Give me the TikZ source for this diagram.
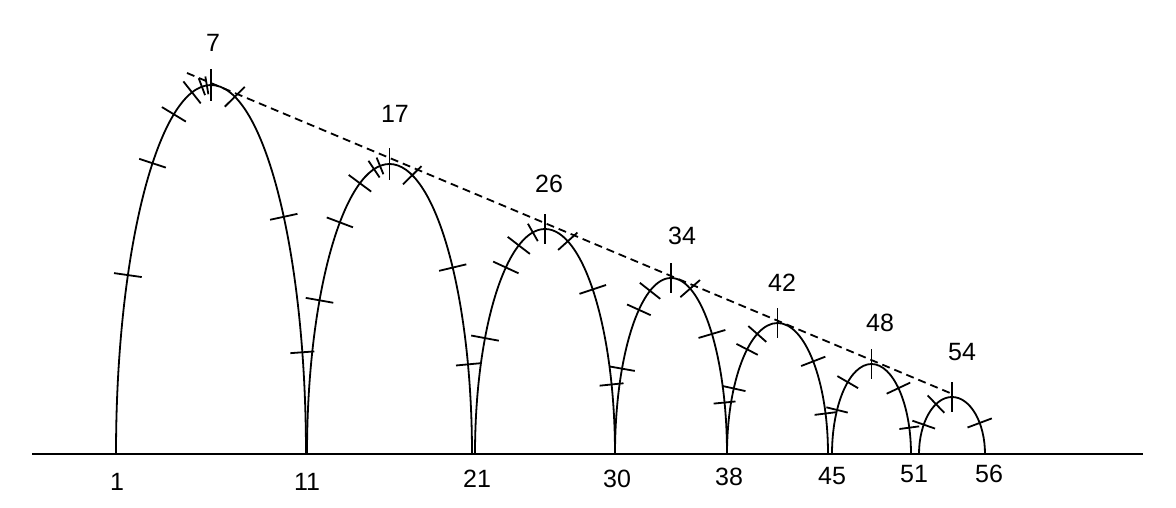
\documentclass[tikz,border=0pt]{standalone}
\usepackage{fontspec}
\setmainfont{Liberation Sans}
\begin{document}
\begin{tikzpicture}[x=1pt,y=1pt,
  archline/.style={line width=1.8pt},
  tickline/.style={line width=1.8pt},
  baseline/.style={line width=2.4pt},
  trendline/.style={line width=1.8pt, dash pattern=on 8pt off 5pt},
  lbl/.style={font=\fontsize{25}{25}\selectfont, inner sep=0pt}]
\useasboundingbox (0,0) rectangle (1176,508);
% base line
\coordinate (b0) at (32,54);
\coordinate (b1) at (1143,54);
\draw[baseline] (b0) -- (b1);
% arches with tick marks: centre x / half width / height / ticks (angle/half-length)
\foreach \cx/\a/\b/\ticks in {
  211/95/369/{151/14,128/14,113/14,101.5/14,95.5/9,92.5/9,90/16,75.5/14,40/14,16/12},
  389.5/82.5/290/{148/14,127/14,111/14,100.8/10,96.6/9,90/16,74/13,40/14,18/12},
  545/70/225/{149/14,124/14,112/14,100/10,90/15,71/13,47/14,18/12},
  671/56/176/{151/13,125/13,112/13,90/15,70/13,43/14,17/11},
  777.5/50.5/131/{150/12,127/12,113.6/12,90/15,45/13,18/11},
  871.5/39.5/90/{150.7/11,127/12,90/15,47/13,17/10},
  952/33/57/{149/12,119/12,90/15,33/13}} {
  \draw[archline] (\cx-\a,54) arc[start angle=180, end angle=0, x radius=\a pt, y radius=\b pt];
  \foreach \t/\L in \ticks {
    \pgfmathsetmacro\px{\cx+\a*cos(\t)}
    \pgfmathsetmacro\py{54+\b*sin(\t)}
    \pgfmathsetmacro\ang{atan2(\a*sin(\t),\b*cos(\t))}
    \draw[tickline, shift={(\px,\py)}, rotate=\ang] (-\L,0) -- (\L,0);
  }
}
% dashed trend line over the peaks
\coordinate (d0) at (187,435);
\coordinate (d1) at (950,115);
\draw[trendline] (d0) -- (d1);
% peak labels
\node[lbl] (p7)  at (213,465) {7};
\node[lbl] (p17) at (395,394) {17};
\node[lbl] (p26) at (549,324) {26};
\node[lbl] (p34) at (682,272) {34};
\node[lbl] (p42) at (782,225) {42};
\node[lbl] (p48) at (880,185) {48};
\node[lbl] (p54) at (962,156) {54};
% base labels
\node[lbl] (x1)  at (117,26) {1};
\node[lbl] (x11) at (307,26) {11};
\node[lbl] (x21) at (477,29) {21};
\node[lbl] (x30) at (617,29) {30};
\node[lbl] (x38) at (729,31) {38};
\node[lbl] (x45) at (832,32) {45};
\node[lbl] (x51) at (914,34) {51};
\node[lbl] (x56) at (989,34) {56};
\end{tikzpicture}
\end{document}
